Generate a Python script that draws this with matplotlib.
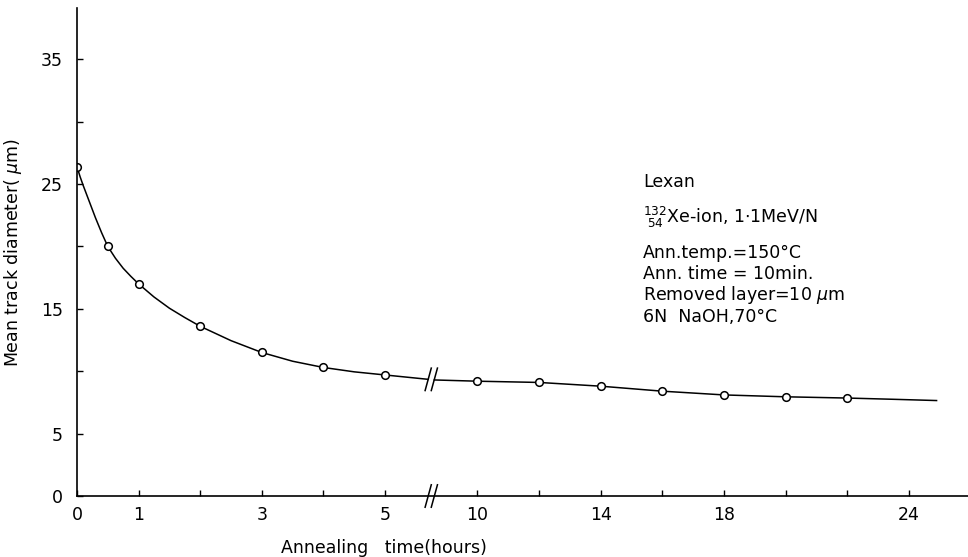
import numpy as np
import matplotlib
matplotlib.use("Agg")
import matplotlib.pyplot as plt

# measured points (hours, mean track diameter in um)
hours = [0, 0.5, 1, 2, 3, 4, 5, 10, 12, 14, 16, 18, 20, 22]
diam = [26.4, 20.0, 17.0, 13.6, 11.5, 10.3, 9.7, 9.2, 9.1, 8.8, 8.4, 8.1, 7.95, 7.85]

# drawn fit curve, in two pieces around the axis break
curve_left_t = [0, 0.05, 0.1, 0.2, 0.3, 0.4, 0.5, 0.625, 0.75, 0.875, 1, 1.25, 1.5, 1.75,
                2, 2.5, 3, 3.5, 4, 4.5, 5, 5.7]
curve_left_d = [26.4, 25.6, 24.9, 23.6, 22.3, 21.1, 20.0, 19.05, 18.25, 17.6, 17.0, 15.95,
                15.05, 14.3, 13.6, 12.45, 11.5, 10.8, 10.3, 9.95, 9.7, 9.35]
curve_right_t = [8.6, 10, 12, 14, 16, 18, 20, 22, 23.5, 24.9]
curve_right_d = [9.3, 9.2, 9.1, 8.8, 8.4, 8.1, 7.95, 7.85, 7.75, 7.65]

xtick_hours = [0, 1, 2, 3, 4, 5, 10, 12, 14, 16, 18, 20, 22, 24]
xtick_labels = ["0", "1", "", "3", "", "5", "10", "", "14", "", "18", "", "", "24"]
ytick_vals = [0, 5, 10, 15, 20, 25, 30, 35]
ytick_labels = ["0", "5", "", "15", "", "25", "", "35"]

info = ["Lexan",
        r"$^{132}_{\ 54}$Xe-ion, 1$\cdot$1MeV/N",
        "Ann.temp.=150°C",
        "Ann. time = 10min.",
        "Removed layer=10 $\\mu$m",
        "6N  NaOH,70°C"]

BREAK = 5.75  # position of the // on the compressed axis


def to_u(t):
    # 0-5 h at full scale, 10-24 h at half scale
    t = np.asarray(t, dtype=float)
    return np.where(t <= 7, t, 6.5 + (t - 10) / 2)


plt.rcParams['font.family'] = 'DejaVu Sans'
plt.rcParams['mathtext.fontset'] = 'dejavusans'

fig = plt.figure(figsize=(9.68, 5.57), dpi=100)
ax = fig.add_axes([0.0795, 0.1095, 0.9205, 0.876])

ax.plot(to_u(curve_left_t), curve_left_d, color='black', lw=1.1)
ax.plot(to_u(curve_right_t), curve_right_d, color='black', lw=1.1)
ax.plot(to_u(hours), diam, 'o', ms=5.5, mfc='white', mec='black', mew=1.1)

# break marks on the axis and on the curve
for yb in [0, np.interp(5.7, curve_left_t, curve_left_d)]:
    for du in [-0.05, 0.05]:
        ax.plot([BREAK + du - 0.05, BREAK + du + 0.05], [yb - 0.9, yb + 0.9],
                color='black', lw=1.1, clip_on=False)

ax.set_xlim(0, 14.46)
ax.set_ylim(0, 39.1)
ax.set_xticks(to_u(xtick_hours))
ax.set_xticklabels(xtick_labels)
ax.set_yticks(ytick_vals)
ax.set_yticklabels(ytick_labels)
ax.tick_params(direction='in', length=4, width=1, labelsize=12.5, pad=7)
ax.tick_params(axis='y', pad=10)

for s in ['top', 'right']:
    ax.spines[s].set_visible(False)
for s in ['left', 'bottom']:
    ax.spines[s].set_linewidth(1.2)

ax.set_xlabel("Annealing   time(hours)", fontsize=12.5)
ax.xaxis.set_label_coords(0.345, -0.088)
ax.set_ylabel("Mean track diameter( $\\mu$m)", fontsize=12.5, labelpad=12)

ys = [0.673, 0.609, 0.546, 0.508, 0.470, 0.431]
for txt, yy in zip(info, ys):
    fig.text(0.664, yy, txt, fontsize=12.5, va='center', ha='left')

fig.savefig("out.png", dpi=100)
